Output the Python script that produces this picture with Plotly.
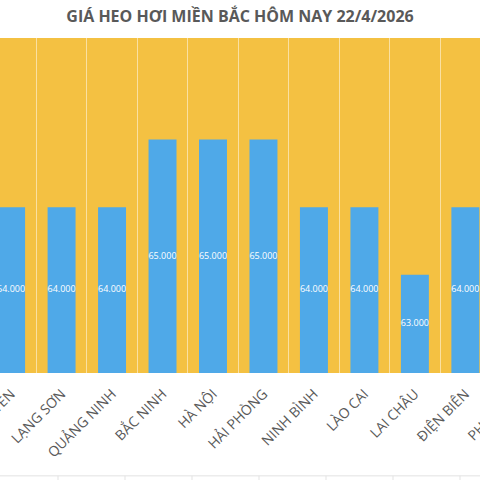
import plotly.graph_objects as go

provinces = ["THÁI NGUYÊN", "LẠNG SƠN", "QUẢNG NINH", "BẮC NINH", "HÀ NỘI", "HẢI PHÒNG",
             "NINH BÌNH", "LÀO CAI", "LAI CHÂU", "ĐIỆN BIÊN", "PHÚ THỌ"]
prices = [64000, 64000, 64000, 65000, 65000, 65000, 64000, 64000, 63000, 64000, 64000]

Y_MIN = 61550
Y_MAX = 66500

fig = go.Figure()
fig.add_trace(go.Bar(
    x=provinces,
    y=prices,
    marker=dict(color="#4FA9E8", line=dict(width=0)),
    hoverinfo="skip",
))
# value labels in the middle of the visible part of each bar
fig.add_trace(go.Scatter(
    x=provinces,
    y=[(p + Y_MIN) / 2 for p in prices],
    customdata=prices,
    mode="text",
    texttemplate="%{customdata:,.0f}",
    textposition="middle center",
    textfont=dict(color="white", size=9, family="Open Sans"),
    hoverinfo="skip",
))

# last province's label sits past the visible range, draw it by hand
fig.add_annotation(
    text=provinces[-1], xref="paper", yref="paper", x=1.025, y=-0.128,
    xanchor="center", yanchor="middle",
    showarrow=False, textangle=-45,
    font=dict(size=14, color="#595959", family="Open Sans"),
)

# faint table border peeking in at the bottom
fig.add_shape(type="line", xref="paper", yref="paper", x0=0, x1=1, y0=-0.307, y1=-0.307,
              line=dict(color="#E3E3E3", width=1))
for xp in [58, 125, 192, 259, 326, 393, 460]:
    fig.add_shape(type="line", xref="paper", yref="paper", x0=xp / 480, x1=xp / 480,
                  y0=-0.307, y1=-0.33, line=dict(color="#E3E3E3", width=1))

fig.update_layout(
    width=480, height=480,
    margin=dict(l=0, r=0, t=38, b=107),
    paper_bgcolor="white",
    plot_bgcolor="#F4C142",
    bargap=0.446,
    separators=",.",
    showlegend=False,
    title=dict(text="<b>GIÁ HEO HƠI MIỀN BẮC HÔM NAY 22/4/2026</b>", x=0.5, xanchor="center",
               y=0.966, yanchor="middle",
               font=dict(size=16, color="#595959", family="Open Sans")),
    xaxis=dict(
        type="category", range=[-0.22, 9.29], tickson="boundaries",
        showgrid=True, gridcolor="rgba(255,255,255,0.5)", gridwidth=1,
        ticks="", tickangle=-45, automargin=False, ticklabelstandoff=9,
        tickfont=dict(size=14, color="#595959", family="Open Sans"),
        showline=False, zeroline=False,
    ),
    yaxis=dict(
        range=[Y_MIN, Y_MAX], showgrid=False, showticklabels=False,
        zeroline=False, ticks="", automargin=False,
    ),
)

fig.write_html("out.html", config={"displayModeBar": False},
               post_script="document.body.style.margin='0';")
